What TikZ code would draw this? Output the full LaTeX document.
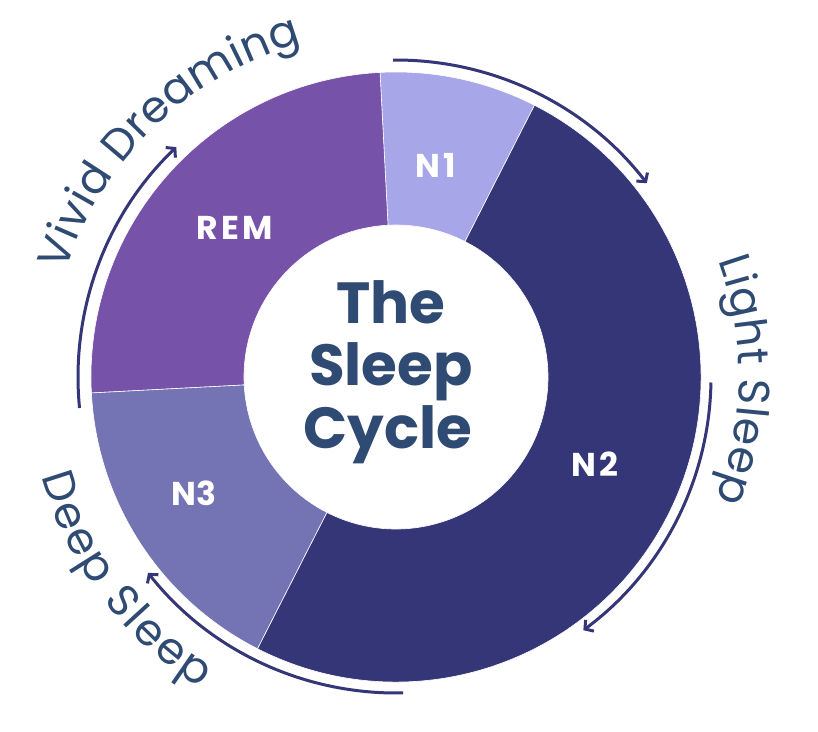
\documentclass[tikz,border=0pt]{standalone}
\usepackage{fontspec}
\usetikzlibrary{arrows.meta,decorations.text}
\newfontfamily\pop{Poppins}
\newfontfamily\poplab[LetterSpace=10]{Poppins}
\newcommand\outerfnt{\pop\fontsize{44}{44}\selectfont}
\definecolor{cNone}{HTML}{A6A6E9}
\definecolor{cNtwo}{HTML}{353677}
\definecolor{cNthree}{HTML}{7474B5}
\definecolor{cREM}{HTML}{7652A9}
\definecolor{txtc}{HTML}{2F4A73}
\definecolor{arrc}{HTML}{353677}
\begin{document}
\begin{tikzpicture}[x=1pt,y=1pt,
  seg/.style={draw=white, line width=0.6pt},
  lab/.style={text=white, font=\poplab\bfseries\fontsize{33}{33}\selectfont, inner sep=0pt},
  ctr/.style={text=txtc, font=\pop\bfseries\fontsize{58}{58}\selectfont, anchor=base, inner sep=0pt},
  arcarrow/.style={draw=arrc, line width=3pt, -{Straight Barb[length=6pt,width=14pt]}},
  curved/.style 2 args={decorate, decoration={text along path, text align=center, text color=txtc,
      text format delimiters={|}{|}, text={|\outerfnt\kern#2|#1}}}
]
\useasboundingbox (-396,-354) rectangle (422,377);
\fill[white] (-396,-354) rectangle (422,377);
% donut segments
\filldraw[fill=cNone, seg] (63:305) arc[start angle=63,end angle=93,radius=305] -- (93:152) arc[start angle=93,end angle=63,radius=152] -- cycle;
\filldraw[fill=cREM, seg] (93:305) arc[start angle=93,end angle=183,radius=305] -- (183:152) arc[start angle=183,end angle=93,radius=152] -- cycle;
\filldraw[fill=cNthree, seg] (183:305) arc[start angle=183,end angle=243,radius=305] -- (243:152) arc[start angle=243,end angle=183,radius=152] -- cycle;
\filldraw[fill=cNtwo, seg] (243:305) arc[start angle=243,end angle=423,radius=305] -- (423:152) arc[start angle=423,end angle=243,radius=152] -- cycle;
% segment labels
\node[lab] (n1) at (40,212) {N1};
\node[lab] (rem) at (-161,149) {REM};
\node[lab, font=\pop\bfseries\fontsize{33}{33}\selectfont] (n3) at (-202,-116) {N3};
\node[lab] (n2) at (199,-87) {N2};
% centre title
\node[ctr] (t1) at (-5,54) {The};
\node[ctr] (t2) at (-5,-8) {Sleep};
\node[ctr] (t3) at (-8,-71) {Cycle};
% arrows
\coordinate (atop) at (90.5:317);
\coordinate (aright) at (-1:315);
\coordinate (abot) at (-88.7:316);
\coordinate (aleft) at (185.6:318);
\draw[arcarrow] (atop) arc[start angle=90.5, end angle=37.7, radius=317];
\draw[arcarrow] (aright) arc[start angle=-1, end angle=-53.5, radius=315];
\draw[arcarrow] (abot) arc[start angle=-88.7, end angle=-141.7, radius=316];
\draw[arcarrow] (aleft) arc[start angle=185.6, end angle=133.7, radius=318];
% curved labels
\path[curved={Vivid Dreaming}{0.5pt}] (200:347) arc[start angle=200, end angle=68, radius=347];
\path[curved={Light Sleep}{0.8pt}] (45:343) arc[start angle=45, end angle=-46, radius=343];
\path[curved={Deep Sleep}{2.5pt}] (170.5:368) arc[start angle=170.5, end angle=262.5, radius=368];
\end{tikzpicture}
\end{document}
